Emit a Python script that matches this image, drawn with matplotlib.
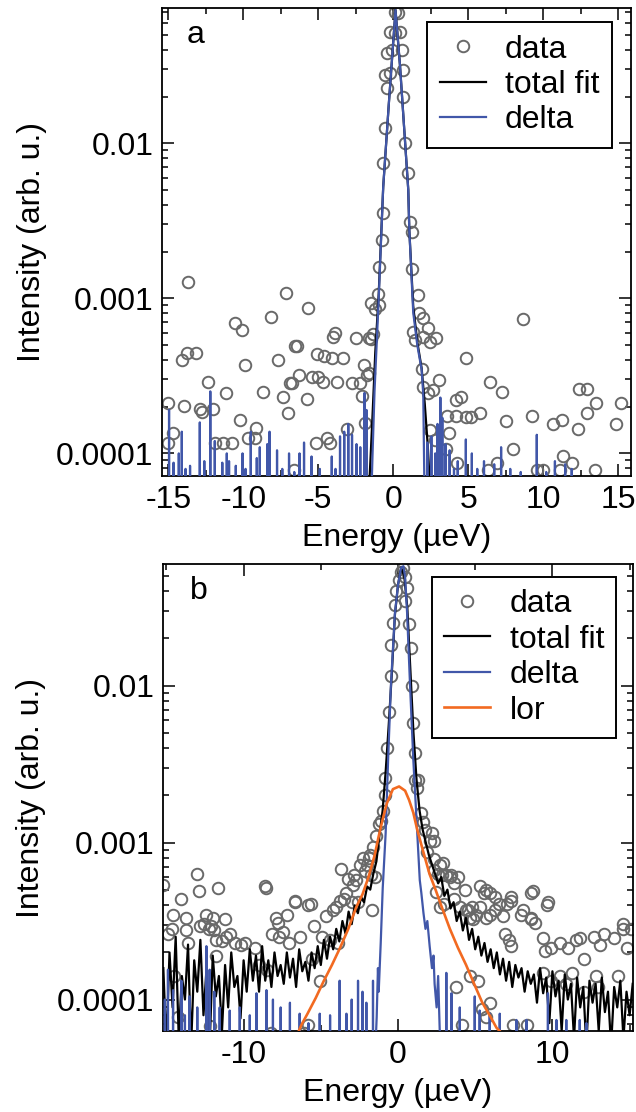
import numpy as np
import matplotlib
matplotlib.use("Agg")
import matplotlib.pyplot as plt
from matplotlib.ticker import MultipleLocator, LogLocator, NullFormatter

plt.rcParams["font.family"] = ["Liberation Sans", "DejaVu Sans"]
plt.rcParams["font.size"] = 23
plt.rcParams["axes.unicode_minus"] = False

GRAY = "#696969"
BLUE = "#4157a9"
ORANGE = "#f26a21"
FS = 23

# ---------------------------------------------------------------------
# Panel a  (energy in µeV, intensity given as log10)
# ---------------------------------------------------------------------
a_data_left = [
    (-15.0, -3.677), (-14.67, -3.867), (-15.0, -3.935), (-14.07, -3.400),
    (-13.77, -3.351), (-13.67, -2.893), (-13.93, -3.693), (-13.17, -3.351),
    (-12.89, -3.714), (-12.77, -3.732), (-12.33, -3.538), (-12.04, -3.714),
    (-11.89, -3.935), (-11.33, -3.935), (-11.15, -3.613), (-10.77, -3.935),
    (-10.55, -3.161), (-10.11, -3.204), (-10.22, -3.785), (-9.89, -3.430),
    (-9.67, -3.903), (-9.17, -3.839), (-9.22, -3.903), (-8.67, -3.603),
    (-8.17, -3.119), (-7.71, -3.400), (-7.17, -2.968), (-7.33, -3.635),
    (-7.0, -3.738), (-6.89, -3.548), (-6.77, -3.548), (-6.62, -4.108),
    (-6.55, -3.306), (-6.44, -3.306), (-6.27, -3.495), (-5.67, -3.061),
    (-5.77, -3.652), (-5.44, -3.506), (-5.11, -3.359), (-5.17, -3.935),
    (-5.0, -3.506), (-4.71, -3.538), (-4.62, -3.372), (-4.44, -3.903),
    (-4.22, -3.935), (-4.11, -3.387), (-4.04, -3.248), (-3.89, -3.226),
    (-3.77, -3.538), (-3.33, -3.387), (-3.07, -3.845), (-2.77, -3.548),
    (-2.49, -3.258), (-2.22, -3.548), (-2.11, -3.630), (-1.95, -3.430),
    (-1.77, -3.495), (-1.89, -3.806), (-1.60, -3.258),
]
a_data_peak = [
    (0.11, -1.151), (0.33, -1.161), (-0.22, -1.28), (0.11, -1.29),
    (0.45, -1.28), (-0.44, -1.419), (-0.11, -1.398), (0.56, -1.398),
    (-0.55, -1.559), (-0.22, -1.548), (0.67, -1.527), (-0.44, -1.645),
    (0.67, -1.699), (-0.55, -1.903), (0.78, -2.0), (-0.67, -2.129),
    (1.0, -2.194), (-0.67, -2.45), (-0.77, -2.624), (1.14, -2.506),
    (1.24, -2.57), (1.23, -2.813), (-0.97, -2.797), (-1.05, -2.97),
    (-1.19, -3.07), (-0.97, -3.04), (-1.46, -3.03), (-1.32, -3.23),
    (-1.51, -3.26), (-1.65, -3.48),
]
a_data_right = [
    (1.67, -2.979), (1.73, -3.097), (2.0, -3.129), (2.29, -3.194),
    (1.33, -3.215), (1.45, -3.269), (1.96, -3.248), (2.45, -3.28),
    (2.85, -3.254), (1.89, -3.458), (2.0, -3.574), (2.33, -3.613),
    (2.67, -3.592), (3.07, -3.527), (2.45, -3.85), (2.78, -3.914),
    (3.56, -3.76), (3.73, -3.867), (3.51, -3.974), (4.18, -3.656),
    (4.49, -3.635), (4.18, -3.76), (4.85, -3.383), (4.85, -3.764),
    (5.16, -3.764), (5.78, -3.738), (4.27, -4.065), (6.45, -3.538),
    (7.22, -3.603), (7.51, -3.79), (6.93, -4.065), (6.33, -4.108),
    (8.0, -3.974), (8.67, -3.135), (9.22, -3.76), (9.56, -4.108),
    (10.0, -4.108), (10.67, -3.811), (11.22, -3.785), (11.33, -4.017),
    (11.89, -4.065), (11.11, -4.108), (12.33, -3.843), (12.4, -3.587),
    (12.89, -3.587), (12.93, -3.738), (13.51, -3.673), (13.44, -4.108),
    (14.85, -3.811), (15.16, -3.673),
]

a_fit_peak = [
    (-1.7, -4.4), (-1.5, -4.0), (-1.38, -3.75), (-1.2, -3.35), (-0.97, -2.97),
    (-0.67, -2.28), (-0.3, -1.75), (0.15, -1.14), (0.45, -1.5), (1.0, -2.3),
    (1.07, -2.56), (1.33, -3.05), (1.6, -3.28), (1.89, -3.45), (2.1, -3.68),
    (2.3, -3.95), (2.55, -4.4),
]
a_delta_peak = [
    (-1.5, -4.4), (-1.38, -4.0), (-1.25, -3.6), (-0.97, -3.0), (-0.67, -2.28),
    (-0.3, -1.75), (0.15, -1.14), (0.45, -1.5), (1.0, -2.3), (1.07, -2.56),
    (1.33, -3.09), (1.6, -3.3), (1.89, -3.46), (2.0, -3.62), (2.1, -4.4),
]
a_delta_spikes = [
    (-14.95, -3.72), (-14.65, -4.06), (-14.3, -4.0), (-14.1, -3.86),
    (-13.85, -4.1), (-13.55, -4.08), (-12.9, -3.80), (-12.6, -4.05),
    (-12.2, -3.60), (-11.9, -3.92), (-11.4, -4.06), (-11.1, -4.0),
    (-10.95, -4.05), (-10.5, -4.08), (-10.05, -4.0), (-9.85, -4.1),
    (-9.5, -3.86), (-9.1, -4.03), (-8.9, -3.96), (-8.4, -3.94),
    (-8.25, -3.86), (-7.75, -3.98), (-7.4, -4.1), (-6.95, -4.0),
    (-6.6, -4.12), (-6.25, -4.0), (-5.95, -3.93), (-5.45, -4.02),
    (-4.9, -4.1), (-4.1, -4.02), (-3.85, -4.1), (-3.55, -3.89),
    (-3.27, -3.86), (-3.0, -3.81), (-2.75, -3.88), (-2.45, -3.94),
    (-2.2, -3.96), (-1.92, -3.61), (-1.78, -3.72),
    (2.27, -3.93), (2.54, -3.89), (2.8, -4.0), (2.95, -3.81), (3.14, -3.64),
    (3.27, -3.77), (3.49, -3.94), (3.76, -3.98), (4.05, -4.1), (4.3, -4.05),
    (4.84, -3.91), (5.24, -4.0), (5.6, -4.1), (6.05, -4.05), (6.73, -4.07),
    (7.19, -3.96), (7.8, -4.1), (8.5, -4.12), (9.57, -3.88), (10.2, -4.12),
    (10.78, -4.05), (11.46, -4.07), (11.9, -4.1),
]

# ---------------------------------------------------------------------
# Panel b
# ---------------------------------------------------------------------
b_data_left = [
    (-15.2, -3.27), (-14.9, -3.58), (-14.62, -3.55), (-14.57, -3.46),
    (-14.03, -3.36), (-13.75, -3.48), (-13.7, -3.56), (-13.6, -3.64),
    (-13.04, -3.20), (-12.89, -3.31), (-12.83, -3.53), (-12.57, -3.52),
    (-12.41, -3.46), (-12.25, -3.55), (-12.09, -3.53), (-11.98, -3.48),
    (-11.91, -3.56), (-11.64, -3.29), (-11.78, -3.62), (-11.43, -3.63),
    (-11.22, -3.49), (-11.12, -3.60), (-10.86, -3.58), (-10.59, -3.64),
    (-10.2, -3.65), (-9.93, -3.64), (-9.28, -3.67), (-14.28, -4.11),
    (-14.49, -3.85), (-11.78, -3.72), (-12.17, -4.17),
    (-8.57, -3.29), (-9.01, -3.78), (-8.49, -3.81), (-8.14, -3.58),
    (-7.75, -3.51), (-7.43, -3.57), (-7.7, -3.60), (-7.17, -3.46),
    (-7.04, -3.64), (-6.64, -3.38), (-6.38, -3.60), (-5.86, -3.40),
    (-5.61, -3.39), (-5.59, -3.74), (-5.46, -3.53), (-5.07, -3.88),
    (-4.93, -3.60), (-4.64, -3.47), (-4.41, -3.62), (-4.21, -3.43),
    (-4.01, -3.41), (-3.88, -3.64), (-3.78, -3.37), (-3.67, -3.17),
    (-3.49, -3.36), (-3.34, -3.32), (-3.22, -3.23), (-2.96, -3.38),
    (-2.91, -3.27), (-2.83, -3.21), (-2.69, -3.24), (-2.57, -3.38),
    (-2.43, -3.14), (-2.27, -3.10), (-2.17, -3.18), (-2.04, -3.14),
    (-1.91, -3.10), (-1.83, -3.08), (-1.78, -3.21), (-1.70, -3.43),
    (-1.62, -3.03), (-1.51, -3.22), (-1.4, -2.96), (-1.23, -2.88),
    (-1.08, -2.86), (-0.97, -2.80), (-0.86, -2.70), (-0.86, -2.59),
    (-0.7, -2.40), (-0.6, -2.17), (-5.86, -4.16), (-6.12, -4.215),
    (-8.22, -4.21), (-7.88, -3.48), (-8.63, -3.28), (-6.69, -3.37),
]
b_data_peak = [
    (0.33, -1.25), (0.2, -1.28), (0.07, -1.33), (0.46, -1.31), (-0.1, -1.40),
    (0.59, -1.38), (-0.2, -1.49), (0.46, -1.46), (-0.33, -1.60), (0.72, -1.61),
    (-0.46, -1.74), (0.86, -1.76), (-0.46, -1.94), (0.93, -2.0), (0.97, -2.24),
    (1.08, -2.43), (1.08, -2.60), (1.3, -2.60), (1.2, -2.65),
]
b_data_right = [
    (1.51, -2.81), (1.64, -2.87), (1.78, -2.92), (2.17, -2.94), (2.04, -2.99),
    (2.3, -2.99), (1.91, -3.06), (2.3, -3.105), (2.7, -3.14), (2.3, -3.175),
    (2.57, -3.2), (2.83, -3.21), (2.43, -3.315), (3.09, -3.21), (3.36, -3.22),
    (3.62, -3.26), (3.88, -3.22), (2.7, -3.41), (2.96, -3.39), (3.62, -3.36),
    (4.01, -3.41), (4.41, -3.43), (4.8, -3.41), (4.67, -3.48), (5.33, -3.28),
    (5.59, -3.32), (5.99, -3.32), (6.25, -3.35), (6.51, -3.39), (5.33, -3.41),
    (5.07, -3.46), (5.72, -3.48), (5.99, -3.46), (7.04, -3.39), (7.3, -3.37),
    (6.25, -3.43), (6.78, -3.47), (6.91, -3.58), (7.17, -3.62), (7.3, -3.66),
    (8.09, -3.43), (8.62, -3.32), (8.62, -3.48), (8.88, -3.51), (9.67, -3.40),
    (9.41, -3.61), (9.54, -3.69), (9.93, -3.67), (10.46, -3.64), (10.99, -3.67),
    (11.51, -3.62), (11.78, -3.61), (12.04, -3.74), (12.7, -3.60), (13.09, -3.65),
    (13.36, -3.58), (14.01, -3.61), (14.54, -3.55), (15.07, -3.55), (14.8, -3.67),
    (3.75, -3.92), (4.14, -4.16), (4.67, -3.85), (5.2, -3.88), (5.46, -4.06),
    (5.72, -4.11), (5.99, -4.02), (7.43, -4.16), (8.36, -4.16), (9.41, -3.83),
    (9.93, -3.88), (10.46, -3.85), (10.86, -3.90), (11.25, -3.83), (12.04, -3.95),
    (12.83, -3.85), (12.96, -3.92), (14.28, -3.85), (2.91, -3.13), (3.46, -3.21),
    (4.32, -3.30), (5.73, -3.30), (7.34, -3.35), (8.74, -3.31), (9.71, -3.38),
    (7.99, -3.46), (8.64, -3.49), (4.53, -3.43), (4.86, -3.49), (14.57, -3.52),
]

# total fit, sampled every 0.2 µeV from -15.2 to 15.2 (log10 intensity)
b_fit_start, b_fit_step = -15.2, 0.2
b_fit_log = [
    -3.80, -4.30, -3.70, -4.05, -3.60, -4.25, -3.85, -4.00, -3.65, -4.30,
    -3.75, -3.95, -3.62, -4.10, -3.80, -4.30, -3.72, -3.98, -3.85, -4.20,
    -3.78, -4.05, -3.70, -3.92, -3.85, -4.12, -3.75, -3.95, -3.68, -3.88,
    -3.72, -3.95, -3.66, -3.88, -3.75, -3.92, -3.70, -3.85, -3.78, -3.90,
    -3.70, -3.86, -3.74, -3.92, -3.68, -3.82, -3.76, -3.88, -3.70, -3.80,
    -3.66, -3.78, -3.62, -3.74, -3.60, -3.68, -3.55, -3.63, -3.50, -3.58,
    -3.44, -3.52, -3.40, -3.45, -3.35, -3.38, -3.28, -3.30, -3.20, -3.12,
    -2.95, -2.80, -2.55, -2.25, -1.92, -1.55, -1.36, -1.25, -1.30, -1.50,
    -1.90, -2.30, -2.60, -2.80, -2.92, -3.00, -3.08, -3.14, -3.20, -3.26,
    -3.22, -3.34, -3.30, -3.42, -3.38, -3.50, -3.44, -3.56, -3.48, -3.62,
    -3.55, -3.68, -3.60, -3.72, -3.64, -3.76, -3.68, -3.80, -3.70, -3.84,
    -3.74, -3.88, -3.76, -3.92, -3.78, -3.86, -3.80, -3.95, -3.82, -3.90,
    -3.84, -4.02, -3.80, -3.96, -3.86, -4.15, -3.82, -3.98, -3.88, -4.20,
    -3.84, -4.00, -3.90, -4.25, -3.86, -4.05, -3.92, -4.30, -3.88, -4.02,
    -3.90, -4.20, -3.86, -4.08, -3.95, -4.30, -3.92, -4.05, -3.88, -4.25,
    -3.95, -4.10, -3.90,
]
b_delta_peak = [
    (-1.5, -4.4), (-1.38, -4.11), (-1.3, -3.8), (-1.25, -3.95), (-1.12, -3.64),
    (-0.99, -3.29), (-0.8, -2.94), (-0.64, -2.47), (-0.46, -2.0), (-0.2, -1.54),
    (0.0, -1.36), (0.2, -1.25), (0.35, -1.24), (0.46, -1.31), (0.59, -1.54),
    (0.78, -2.0), (0.99, -2.47), (1.25, -2.94), (1.41, -3.24), (1.51, -3.32),
    (1.65, -3.45), (1.78, -3.55), (1.9, -3.5), (2.05, -3.66), (2.2, -3.8),
    (2.3, -3.72), (2.37, -3.9), (2.5, -4.05), (2.6, -3.85), (2.7, -4.19),
    (2.8, -4.4),
]
b_delta_spikes = [
    (-15.1, -4.0), (-14.9, -3.81), (-14.57, -3.94), (-14.03, -3.88),
    (-13.8, -4.1), (-13.5, -3.98), (-13.0, -4.05), (-12.41, -3.66),
    (-12.2, -3.81), (-11.9, -3.95), (-11.55, -4.05), (-10.9, -4.07),
    (-10.25, -4.05), (-9.6, -4.1), (-9.17, -3.96), (-8.52, -3.94),
    (-8.1, -4.0), (-7.6, -4.05), (-7.0, -4.02), (-6.37, -4.09),
    (-5.8, -4.15), (-5.07, -4.09), (-4.4, -4.1), (-3.78, -3.88),
    (-3.34, -4.09), (-3.0, -4.0), (-2.59, -3.88), (-2.3, -3.95),
    (-2.05, -4.02), (-1.62, -3.88),
    (3.13, -3.83), (3.46, -3.96), (4.0, -4.05), (4.97, -3.98), (5.29, -4.07),
    (5.94, -4.09), (6.59, -4.09), (7.67, -4.13), (8.32, -4.13), (9.71, -3.96),
    (10.26, -4.13), (10.9, -4.13), (11.77, -4.13), (12.2, -4.15),
]
b_lor = [
    (-7.1, -4.30), (-6.51, -4.22), (-6.25, -4.16), (-5.86, -4.09), (-5.33, -3.99),
    (-4.8, -3.88), (-4.28, -3.78), (-3.75, -3.67), (-3.22, -3.55), (-2.7, -3.41),
    (-2.3, -3.33), (-1.91, -3.22), (-1.51, -3.08), (-1.25, -2.96), (-0.99, -2.85),
    (-0.72, -2.75), (-0.33, -2.66), (0.07, -2.643), (0.46, -2.67), (0.72, -2.73),
    (0.99, -2.81), (1.25, -2.92), (1.64, -3.06), (2.04, -3.20), (2.43, -3.30),
    (2.83, -3.41), (3.36, -3.55), (3.88, -3.67), (4.41, -3.78), (4.93, -3.90),
    (5.46, -4.02), (5.99, -4.11), (6.38, -4.18), (6.78, -4.22), (7.1, -4.30),
]

y_ticks = [1e-4, 1e-3, 1e-2]
y_tick_labels = ["0.0001", "0.001", "0.01"]


def pts(pairs):
    arr = np.array(pairs, dtype=float)
    return arr[:, 0], 10 ** arr[:, 1]


def spiky(peak, spikes, floor=-6.0, half=0.045):
    xs, ls = [], []
    for x, l in peak:
        xs.append(x)
        ls.append(l)
    for x, l in spikes:
        xs += [x - half, x, x + half]
        ls += [floor, l, floor]
    order = np.argsort(xs, kind="stable")
    return np.array(xs)[order], 10 ** np.array(ls)[order]


def style(ax, xlim, ylim, xmajor, xminor):
    ax.set_yscale("log")
    ax.set_xlim(*xlim)
    ax.set_ylim(*ylim)
    ax.xaxis.set_major_locator(MultipleLocator(xmajor))
    ax.xaxis.set_minor_locator(MultipleLocator(xminor))
    ax.set_yticks(y_ticks, labels=y_tick_labels)
    ax.yaxis.set_minor_locator(LogLocator(base=10, subs=np.arange(2, 10), numticks=30))
    ax.yaxis.set_minor_formatter(NullFormatter())
    ax.tick_params(which="both", direction="in", top=True, right=True, width=1.1)
    ax.tick_params(which="major", length=8.5, pad=6.5, labelsize=FS)
    ax.tick_params(which="minor", length=4.5)
    for s in ax.spines.values():
        s.set_linewidth(1.3)
    ax.set_xlabel("Energy (µeV)", fontsize=FS)
    ax.set_ylabel("Intensity (arb. u.)", fontsize=FS)


def scatter(ax, pairs):
    x, y = pts(pairs)
    return ax.plot(x, y, ls="none", marker="o", mfc="none", mec=GRAY,
                   ms=8.3, mew=1.4, zorder=2, label="data")[0]


def add_legend(ax, handles, anchor):
    leg = ax.legend(handles=handles, loc="upper right", bbox_to_anchor=anchor,
                    borderaxespad=0, fancybox=False, edgecolor="black",
                    framealpha=1, handlelength=1.45, handletextpad=0.6,
                    borderpad=0.38, labelspacing=0.17, fontsize=FS)
    leg.get_frame().set_linewidth(1.4)


fig = plt.figure(figsize=(6.36, 11.12), dpi=100)

# ---- panel a ----
ax = fig.add_axes([0.2552, 0.5719, 0.7369, 0.4206])
h_data = scatter(ax, a_data_left + a_data_peak + a_data_right)
fx, fy = pts(a_fit_peak)
h_fit, = ax.plot(fx, fy, color="black", lw=1.6, zorder=3, label="total fit")
dx, dy = spiky(a_delta_peak, a_delta_spikes)
h_delta, = ax.plot(dx, dy, color=BLUE, lw=1.6, zorder=4, label="delta")
style(ax, (-15.4, 15.85), (7.14e-5, 0.0743), 5, 2.5)
ax.xaxis.set_label_coords(0.5, -0.101)
ax.yaxis.set_label_coords(-0.247, 0.5)
ax.text(0.052, 0.925, "a", transform=ax.transAxes, fontsize=FS)
add_legend(ax, [h_data, h_fit, h_delta], (0.959, 0.97))

# ---- panel b ----
ax = fig.add_axes([0.2568, 0.0728, 0.7380, 0.4200])
h_data = scatter(ax, b_data_left + b_data_peak + b_data_right)
bx = b_fit_start + b_fit_step * np.arange(len(b_fit_log))
h_fit, = ax.plot(bx, 10 ** np.array(b_fit_log), color="black", lw=1.6,
                 zorder=3, label="total fit")
dx, dy = spiky(b_delta_peak, b_delta_spikes)
h_delta, = ax.plot(dx, dy, color=BLUE, lw=1.6, zorder=4, label="delta")
lx, ly = pts(b_lor)
h_lor, = ax.plot(lx, ly, color=ORANGE, lw=1.9, zorder=5, label="lor")
style(ax, (-15.2, 15.2), (6.3e-5, 0.0594), 10, 5)
ax.xaxis.set_label_coords(0.5, -0.101)
ax.yaxis.set_label_coords(-0.249, 0.5)
ax.text(0.056, 0.926, "b", transform=ax.transAxes, fontsize=FS)
add_legend(ax, [h_data, h_fit, h_delta, h_lor], (0.965, 0.972))

fig.savefig("out.png", dpi=100)
